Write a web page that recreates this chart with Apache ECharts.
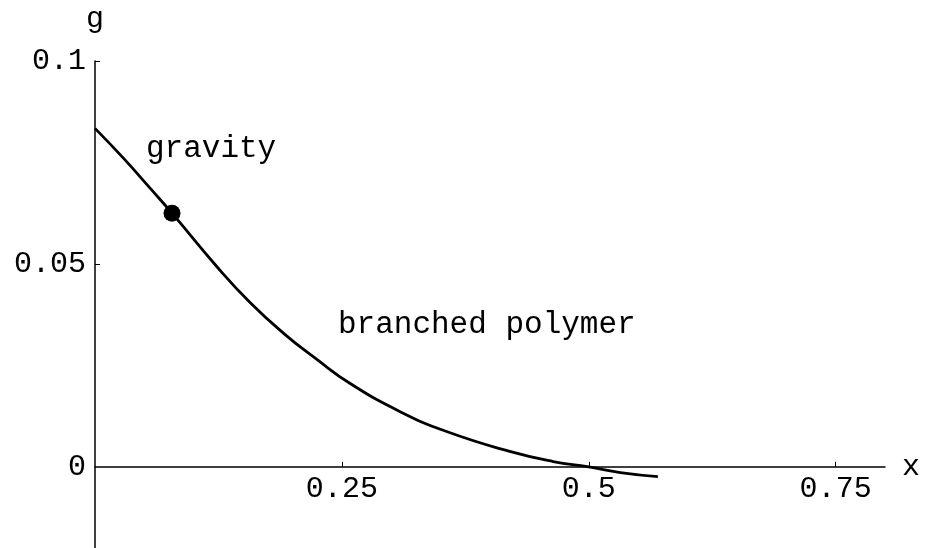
<!DOCTYPE html>
<html>
<head>
<meta charset="utf-8">
<script src="https://cdn.jsdelivr.net/npm/echarts@6/dist/echarts.min.js"></script>
<style>html,body{margin:0;padding:0;background:#fff}#c{width:927px;height:548px}</style>
</head>
<body>
<div id="c"></div>
<script>
var curveX = [0, 0.029, 0.056, 0.078, 0.1235, 0.157, 0.191, 0.225, 0.258, 0.309, 0.356, 0.420, 0.464, 0.5, 0.532, 0.570];
var curveY = [0.0834, 0.0760, 0.0686, 0.0625, 0.0493, 0.0405, 0.0329, 0.0264, 0.0206, 0.0136, 0.0087, 0.0038, 0.0013, 0, -0.0014, -0.0024];
var markPoint = [0.078, 0.0625];
var xTicks = [0.25, 0.5, 0.75];
var yTicks = [0.05, 0.1];
var yLabels = [0, 0.05, 0.1];
var texts = ['gravity', 'branched polymer'];

var font = 'Liberation Mono';
var yMin = -0.02, yMax = 0.1;
var gridTop = 61, gridBottom = 0, H = 548;
var zeroOffset = (H - gridTop - gridBottom) * (0 - yMin) / (yMax - yMin);

var chart = echarts.init(document.getElementById('c'));
var curve = curveX.map(function (x, i) { return [x, curveY[i]]; });
chart.setOption({
  animation: false,
  grid: { left: 95, right: 42, top: gridTop, bottom: gridBottom, containLabel: false, outerBoundsMode: 'none' },
  xAxis: {
    type: 'value', min: 0, max: 0.8, position: 'bottom', offset: -zeroOffset,
    name: 'x', nameLocation: 'end', nameGap: 17,
    nameTextStyle: { fontFamily: font, fontSize: 30, color: '#000', verticalAlign: 'middle' },
    axisLine: { onZero: false, lineStyle: { color: '#000', width: 1.5 } },
    axisTick: { show: true, inside: true, length: 5, customValues: xTicks, lineStyle: { color: '#000', width: 1 } },
    axisLabel: { customValues: xTicks, margin: 7, fontFamily: font, fontSize: 30, color: '#000' },
    splitLine: { show: false }
  },
  yAxis: {
    type: 'value', min: yMin, max: yMax,
    name: 'g', nameLocation: 'end', nameGap: 27,
    nameTextStyle: { fontFamily: font, fontSize: 30, color: '#000' },
    axisLine: { onZero: false, lineStyle: { color: '#000', width: 1.5 } },
    axisTick: { show: true, inside: true, length: 5, customValues: yTicks, lineStyle: { color: '#000', width: 1 } },
    axisLabel: { customValues: yLabels, margin: 9, fontFamily: font, fontSize: 30, color: '#000',
      formatter: function (v) { return String(Math.round(v * 1000) / 1000); } },
    splitLine: { show: false }
  },
  graphic: [
    { type: 'text', left: 146, top: 133, style: { text: texts[0], font: '31px "Liberation Mono"', fill: '#000' } },
    { type: 'text', left: 338, top: 309, style: { text: texts[1], font: '31px "Liberation Mono"', fill: '#000' } }
  ],
  series: [
    { type: 'line', data: curve, smooth: 0.5, showSymbol: false, lineStyle: { color: '#000', width: 2.8 }, z: 3 },
    { type: 'scatter', data: [markPoint], symbol: 'circle', symbolSize: 17, itemStyle: { color: '#000', opacity: 1 }, z: 4 }
  ]
});
</script>
</body>
</html>
